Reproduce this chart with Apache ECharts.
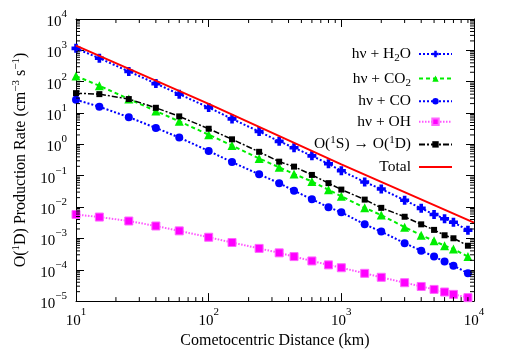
<!DOCTYPE html>
<html>
<head>
<meta charset="utf-8">
<script src="https://cdn.jsdelivr.net/npm/echarts@6/dist/echarts.min.js"></script>
<style>
html,body{margin:0;padding:0;background:#fff;}
#chart{width:506px;height:354px;}
</style>
</head>
<body>
<div id="chart"></div>
<script>
// Distances (km)
const xValues = [10,15,25,40,60,100,150,240,340,440,600,800,1000,1500,2000,3000,4000,5000,6000,7000,9000];
// Production rates (cm^-3 s^-1)
const h2o = [1156,560,213,87,40,15.0,6.5,2.57,1.25,0.78,0.43,0.24,0.144,0.063,0.0375,0.0165,0.0091,0.0058,0.00425,0.00329,0.00182];
const co2 = [151,74.3,27.9,11.6,5.43,2.04,0.92,0.356,0.185,0.114,0.0656,0.0356,0.0221,0.00944,0.00555,0.00229,0.00126,0.00084,0.000585,0.000456,0.000263];
const co = [26.5,15.9,7.38,3.34,1.66,0.615,0.272,0.111,0.058,0.0332,0.0177,0.0099,0.0068,0.00281,0.00165,0.000707,0.000406,0.000263,0.000183,0.000135,0.000078];
const oh = [5.8e-3,4.8e-3,3.59e-3,2.49e-3,1.74e-3,1.09e-3,7.4e-4,4.8e-4,3.46e-4,2.63e-4,1.91e-4,1.43e-4,1.16e-4,7.7e-5,5.75e-5,3.86e-5,2.93e-5,2.36e-5,1.95e-5,1.64e-5,1.29e-5];
const o1s = [43.1,40.1,27.9,14.7,7.81,3.15,1.45,0.579,0.281,0.195,0.106,0.058,0.0361,0.0173,0.00944,0.00491,0.00281,0.00187,0.00126,0.00101,0.000585];
const totalX = [10,100,1000,10000];
const total = [1406,19.6,0.231,0.00318];

const seriesNames = ['H2O','CO2','CO','OH','O1S','Total'];
const legendLabels = {
  'H2O': '{t|hν + H}{sub|2}{t|O}',
  'CO2': '{t|hν + CO}{sub|2}',
  'CO': '{t|hν + CO}',
  'OH': '{t|hν + OH}',
  'O1S': '{t|O(}{sup|1}{t|S) → O(}{sup|1}{t|D)}',
  'Total': '{t|Total}'
};
const xMin = 10, xMax = 10000, yMin = 1e-5, yMax = 1e4;
const minorMult = [2,3,4,5,6,7,8,9];
const xDecades = [10,100,1000];
const yDecades = [1e-5,1e-4,1e-3,1e-2,1e-1,1,10,100,1000];

const FONT = 'Liberation Serif';
const pair = (xs, ys) => xs.map((x,i)=>[x, ys[i]]);

const minorData = [];
xDecades.forEach(d => minorMult.forEach(m => minorData.push([d*m, yMin, 0])));
yDecades.forEach(d => minorMult.forEach(m => minorData.push([xMin, d*m, 1])));

function powLabel(v){
  const e = Math.round(Math.log10(v));
  const es = e < 0 ? '\u2212' + (-e) : '' + e;
  return '{b|10}{s|' + es + '}';
}
const labelRich = {
  b: {fontFamily: FONT, fontSize: 15, color: '#000', verticalAlign: 'bottom'},
  s: {fontFamily: FONT, fontSize: 11, color: '#000', verticalAlign: 'bottom', padding: [0,0,10,0]}
};

const plusPath = 'path://M3,0H7V3H10V7H7V10H3V7H0V3H3Z';

const chart = echarts.init(document.getElementById('chart'), null, {renderer: 'canvas'});
const option = {
  animation: false,
  backgroundColor: '#fff',
  grid: {left: 76, top: 19, right: 32, bottom: 50, containLabel: false},
  legend: {
    orient: 'vertical',
    right: 48,
    top: 39,
    align: 'right',
    itemWidth: 33,
    itemHeight: 8,
    itemGap: 4.6,
    data: seriesNames.map(n => n === 'Total' ? {name: n, itemStyle: {opacity: 0}} : {name: n}),
    formatter: n => legendLabels[n],
    textStyle: {
      fontFamily: FONT, fontSize: 15, color: '#000', padding: [0,3,0,0],
      rich: {
        t: {fontFamily: FONT, fontSize: 15.5, color: '#000', verticalAlign: 'middle', lineHeight: 18},
        sub: {fontFamily: FONT, fontSize: 11, color: '#000', verticalAlign: 'middle', lineHeight: 18, padding: [9,0,0,0]},
        sup: {fontFamily: FONT, fontSize: 11, color: '#000', verticalAlign: 'middle', lineHeight: 18, padding: [0,0,9,0]}
      }
    }
  },
  xAxis: [{
    type: 'log', logBase: 10, min: xMin, max: xMax, position: 'bottom',
    name: 'Cometocentric Distance (km)', nameLocation: 'middle', nameGap: 31,
    nameTextStyle: {fontFamily: FONT, fontSize: 16, color: '#000'},
    axisLine: {show: true, lineStyle: {color: '#000', width: 1}},
    axisTick: {show: true, inside: true, length: 8, lineStyle: {color: '#000'}},
    axisLabel: {show: true, margin: 6, formatter: powLabel, rich: labelRich},
    splitLine: {show: false}
  }, {
    type: 'log', logBase: 10, min: xMin, max: xMax, position: 'top',
    axisLine: {show: true, lineStyle: {color: '#000', width: 1}},
    axisTick: {show: true, inside: true, length: 8, lineStyle: {color: '#000'}},
    axisLabel: {show: false}, splitLine: {show: false}
  }],
  yAxis: [{
    type: 'log', logBase: 10, min: yMin, max: yMax, interval: 1, position: 'left',
    name: 'O({s|1}D) Production Rate (cm{s|\u22123} s{s|\u22121})',
    nameLocation: 'middle', nameGap: 45, nameRotate: 90,
    nameTextStyle: {fontFamily: FONT, fontSize: 16, color: '#000',
      rich: {
        s: {fontFamily: FONT, fontSize: 11, color: '#000', verticalAlign: 'bottom', padding: [0,0,9,0]}
      }},
    axisLine: {show: true, lineStyle: {color: '#000', width: 1}},
    axisTick: {show: true, inside: true, length: 8, lineStyle: {color: '#000'}},
    axisLabel: {show: true, margin: 9, interval: 0, formatter: powLabel, rich: labelRich},
    splitLine: {show: false}
  }, {
    type: 'log', logBase: 10, min: yMin, max: yMax, interval: 1, position: 'right',
    axisLine: {show: true, lineStyle: {color: '#000', width: 1}},
    axisTick: {show: true, inside: true, length: 8, lineStyle: {color: '#000'}},
    axisLabel: {show: false}, splitLine: {show: false}
  }],
  series: [
    {name: 'H2O', type: 'line', data: pair(xValues, h2o), symbol: plusPath, symbolSize: 9,
      itemStyle: {color: '#0000ff'}, lineStyle: {color: '#0000ff', width: 2, type: [2,2]}, z: 3},
    {name: 'CO2', type: 'line', data: pair(xValues, co2), symbol: 'triangle', symbolSize: 9,
      itemStyle: {color: '#00ee00'}, lineStyle: {color: '#00ee00', width: 2, type: [4,3]}, z: 3},
    {name: 'CO', type: 'line', data: pair(xValues, co), symbol: 'circle', symbolSize: 8,
      itemStyle: {color: '#0000ff'}, lineStyle: {color: '#0000ff', width: 2, type: [2,2]}, z: 3},
    {name: 'OH', type: 'line', data: pair(xValues, oh), symbol: 'rect', symbolSize: 8,
      itemStyle: {color: '#ff00ff', borderColor: '#ff66ff', borderWidth: 1}, lineStyle: {color: '#ff55ff', width: 2, type: [1.5,1.5]}, z: 3},
    {name: 'O1S', type: 'line', data: pair(xValues, o1s), symbol: 'rect', symbolSize: 6,
      itemStyle: {color: '#000'}, lineStyle: {color: '#000', width: 1.5, type: [6,2,2,2]}, z: 3},
    {name: 'Total', type: 'line', data: pair(totalX, total), symbol: 'none', showSymbol: false,
      itemStyle: {color: '#ff0000'}, lineStyle: {color: '#ff0000', width: 2, type: 'solid'}, z: 4},
    {type: 'custom', silent: true, clip: false, z: 5, data: minorData, encode: {x: 0, y: 1},
      renderItem: function(params, api){
        const kind = api.value(2);
        const st = {stroke: '#000', lineWidth: 1};
        if (kind === 0) {
          const v = api.value(0);
          const b = api.coord([v, yMin]);
          const t = api.coord([v, yMax]);
          return {type: 'group', children: [
            {type: 'line', shape: {x1: b[0], y1: b[1], x2: b[0], y2: b[1]-4}, style: st},
            {type: 'line', shape: {x1: t[0], y1: t[1], x2: t[0], y2: t[1]+4}, style: st}
          ]};
        } else {
          const v = api.value(1);
          const l = api.coord([xMin, v]);
          const r = api.coord([xMax, v]);
          return {type: 'group', children: [
            {type: 'line', shape: {x1: l[0], y1: l[1], x2: l[0]+4, y2: l[1]}, style: st},
            {type: 'line', shape: {x1: r[0], y1: r[1], x2: r[0]-4, y2: r[1]}, style: st}
          ]};
        }
      }
    }
  ]
};
chart.setOption(option);
</script>
</body>
</html>
